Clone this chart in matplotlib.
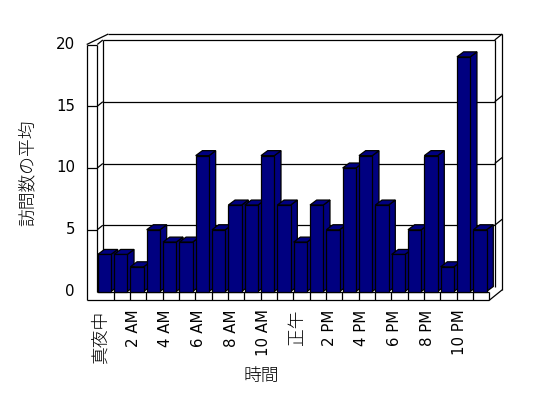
import matplotlib
matplotlib.use('Agg')
import matplotlib.pyplot as plt
from matplotlib.patches import Polygon

plt.rcParams['font.family'] = ['Noto Sans CJK JP', 'DejaVu Sans']

# average visits per hour (0..23)
visits = [3, 3, 2, 5, 4, 4, 11, 5, 7, 7, 11, 7, 4, 7, 5, 10, 11, 7, 3, 5, 11, 2, 19, 5]
hour_labels = ['真夜中', '2 AM', '4 AM', '6 AM', '8 AM', '10 AM',
               '正午', '2 PM', '4 PM', '6 PM', '8 PM', '10 PM']
y_ticks = [0, 5, 10, 15, 20]
y_title = '訪問数の平均'
x_title = '時間'

N = len(visits)
YMAX = y_ticks[-1]

# pixel scale of the front plane (px per slot / px per unit)
SX, SY = 16.33, 12.35
X0_PX, Y0_PX = 97.3, 291.5
W, H = 548, 398


def ox(p):
    return p / SX


def oy(p):
    return p / SY


fig = plt.figure(figsize=(W / 100, H / 100), dpi=100)
ax = fig.add_axes([0, 0, 1, 1])
ax.set_xlim(-X0_PX / SX, (W - X0_PX) / SX)
ax.set_ylim((Y0_PX - H) / SY, Y0_PX / SY)
ax.axis('off')

LW = 0.9
BAR_C = '#000080'

# depth of the chart box, wall thicknesses (px)
DX, DY = 5.5, 4.5
TX, TY = 7.5, 6.0
LEFT_T = 10.6
FLOOR_T = 8.8


def line(xs, ys, z=1):
    ax.plot(xs, ys, color='black', lw=LW, zorder=z, solid_capstyle='butt')


bx0, bx1 = ox(DX), N + ox(DX)
by0, by1 = oy(DY), YMAX + oy(DY)
lx = -ox(LEFT_T)
fy = -oy(FLOOR_T)

# back wall front face + gridlines
line([bx0, bx1], [by1, by1])
line([bx0, bx0], [by0, by1])
line([bx1, bx1], [by0, by1])
for v in y_ticks[1:-1]:
    line([bx0, bx1], [v + oy(DY), v + oy(DY)])
    line([lx, 0], [v, v])
    line([0, bx0], [v, v + oy(DY)])
    line([bx1, bx1 + ox(TX)], [v + oy(DY), v + oy(DY) + oy(TY)])

# outer frame
top_out = by1 + oy(TY)
line([lx, lx], [fy, YMAX])
line([0, 0], [0, YMAX])
line([lx, 0], [YMAX, YMAX])
line([lx, bx0 + ox(TX) - ox(2)], [YMAX, top_out])
line([0, bx0], [YMAX, by1])
line([bx0 + ox(TX) - ox(2), bx1 + ox(TX)], [top_out, top_out])
line([bx1, bx1 + ox(TX)], [by1, top_out])
line([bx1 + ox(TX), bx1 + ox(TX)], [top_out, oy(DY) + oy(TY) + fy])

# floor front face
line([lx, N], [fy, fy])
line([0, N], [0, 0])
line([N, N], [fy, 0])
line([N, bx1 + ox(TX)], [fy, oy(DY) + oy(TY) + fy])
for i in range(1, N):
    line([i, i], [fy, 0])

# bars
bw = 13.3 / SX
bdx, bdy = ox(6.7), oy(5.0)
for i, v in enumerate(visits):
    xl, xr = i + ox(0.4), i + ox(0.4) + bw
    z = 3 + i
    side = Polygon([(xr, 0), (xr + bdx, bdy), (xr + bdx, v + bdy), (xr, v)],
                   closed=True, fc=BAR_C, ec='black', lw=LW, zorder=z)
    top = Polygon([(xl, v), (xr, v), (xr + bdx, v + bdy), (xl + bdx, v + bdy)],
                  closed=True, fc=BAR_C, ec='black', lw=LW, zorder=z)
    front = Polygon([(xl, 0), (xr, 0), (xr, v), (xl, v)],
                    closed=True, fc=BAR_C, ec='black', lw=LW, zorder=z + 0.5)
    ax.add_patch(side)
    ax.add_patch(top)
    ax.add_patch(front)

# texts: latin labels in DejaVu, kanji in Noto CJK
LATIN = ['DejaVu Sans', 'Noto Sans CJK JP']
CJK = ['Noto Sans CJK JP', 'DejaVu Sans']
FS_L, FS_C = 10.8, 12.8
for v in y_ticks:
    ax.text(-ox(X0_PX - 75), v, str(v), ha='right', va='center',
            fontsize=FS_L, family=LATIN)
for k, lab in enumerate(hour_labels):
    is_latin = lab.isascii()
    ax.text(2 * k + 0.2, -oy(18), lab, rotation=90, ha='center', va='top',
            fontsize=FS_L if is_latin else FS_C,
            fontweight='normal' if is_latin else 'light',
            family=LATIN if is_latin else CJK)
ax.text(ox(27.7 - X0_PX), oy(Y0_PX - 172.5), y_title, rotation=90,
        ha='center', va='center', fontsize=FS_C, fontweight='light', family=CJK)
ax.text(ox(261.7 - X0_PX), oy(Y0_PX - 376), x_title, ha='center',
        va='center', fontsize=FS_C, fontweight='light', family=CJK)

fig.savefig('out.png', dpi=100)
